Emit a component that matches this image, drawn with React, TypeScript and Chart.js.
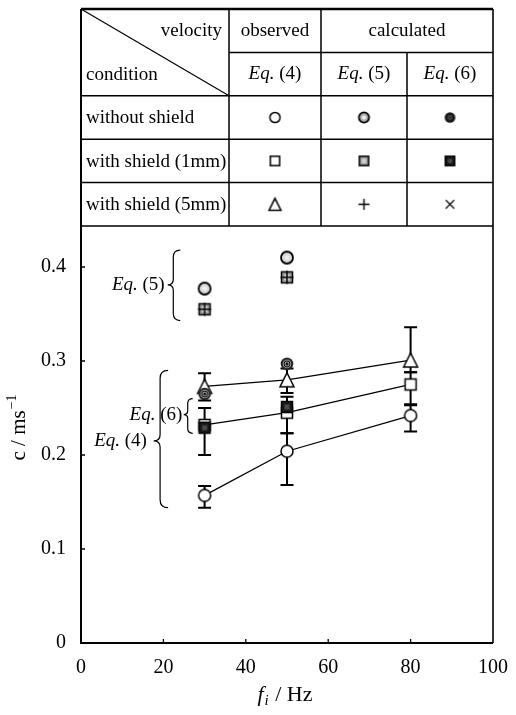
import { useEffect, useRef } from 'react';
import { Chart, registerables } from 'chart.js';
Chart.register(...registerables);

const FONT = '"Liberation Serif", "Times New Roman", serif';

// ---- data ----
const obsFreq = [30, 50, 80];
const calcFreq = [30, 50];

const obsNoShield = [0.157, 0.204, 0.242];
const obsNoShieldLow = [0.144, 0.168, 0.225];
const obsNoShieldHigh = [0.167, 0.223, 0.253];

const obsShield1 = [0.232, 0.245, 0.275];
const obsShield1Low = [0.200, 0.223, 0.254];
const obsShield1High = [0.250, 0.262, 0.288];

const obsShield5 = [0.273, 0.280, 0.301];
const obsShield5Low = [0.258, 0.266, 0.288];
const obsShield5High = [0.287, 0.292, 0.336];

const eq5NoShield = [0.377, 0.410];
const eq5Shield1 = [0.355, 0.389];
const eq5Shield5 = [0.355, 0.389];

const eq6NoShield = [0.265, 0.297];
const eq6Shield1 = [0.229, 0.251];

const yTicks = [0, 0.1, 0.2, 0.3, 0.4];
const xTickStep = 20;

const conditions = ['without shield', 'with shield (1mm)', 'with shield (5mm)'];
const eqNumbers = ['(4)', '(5)', '(6)'];
const tableSymbols = [
  ['circleOpen', 'circleEq5', 'circleEq6'],
  ['squareOpen', 'squareEq5', 'squareEq6'],
  ['triangleOpen', 'plus', 'cross'],
];

// ---- markers ----
function makeMarker(kind: string, k = 1, table = false): HTMLCanvasElement {
  const size = Math.ceil(20 * k);
  const cv = document.createElement('canvas');
  cv.width = size;
  cv.height = size;
  const g = cv.getContext('2d')!;
  const c = size / 2;
  g.strokeStyle = '#000';
  g.lineWidth = 1.5;
  const circ = (r: number) => {
    g.beginPath();
    g.arc(c, c, r, 0, Math.PI * 2);
  };
  switch (kind) {
    case 'circleOpen':
      circ(6 * k); g.fillStyle = '#fff'; g.fill(); g.stroke();
      break;
    case 'circleEq5':
      circ(6 * k); g.fillStyle = table ? '#b0b0b0' : '#d8d8d8'; g.fill(); g.lineWidth = 1.8; g.stroke();
      circ(2.5 * k); g.fillStyle = '#ededed'; g.fill();
      break;
    case 'circleEq6':
      if (table) {
        circ(6.3 * k); g.fillStyle = '#1a1a1a'; g.fill();
        circ(2.6 * k); g.fillStyle = '#555'; g.fill();
        circ(1.2 * k); g.fillStyle = '#111'; g.fill();
      } else {
        circ(6.3 * k); g.fillStyle = '#222'; g.fill();
        circ(4.3 * k); g.fillStyle = '#aaa'; g.fill();
        circ(3 * k); g.lineWidth = 1; g.stroke();
        circ(1.5 * k); g.fillStyle = '#111'; g.fill();
      }
      break;
    case 'squareOpen': {
      const h = 5.5 * k;
      g.fillStyle = '#fff'; g.fillRect(c - h, c - h, 2 * h, 2 * h); g.strokeRect(c - h, c - h, 2 * h, 2 * h);
      break;
    }
    case 'squareEq5': {
      const h = 5.5 * k;
      g.fillStyle = '#9a9a9a'; g.fillRect(c - h, c - h, 2 * h, 2 * h);
      g.fillStyle = '#d0d0d0'; g.fillRect(c - h * 0.5, c - h * 0.5, h, h);
      g.strokeRect(c - h, c - h, 2 * h, 2 * h);
      break;
    }
    case 'squareEq6': {
      const h = 5.5 * k;
      g.fillStyle = '#1a1a1a'; g.fillRect(c - h, c - h, 2 * h, 2 * h);
      g.fillStyle = '#4a4a4a'; g.fillRect(c - h * 0.45, c - h * 0.45, h * 0.9, h * 0.9);
      g.strokeRect(c - h, c - h, 2 * h, 2 * h);
      break;
    }
    case 'triangleOpen': {
      const w = 7 * k, ht = 7 * k;
      g.beginPath(); g.moveTo(c, c - ht); g.lineTo(c + w, c + ht); g.lineTo(c - w, c + ht); g.closePath();
      g.fillStyle = '#fff'; g.fill(); g.stroke();
      break;
    }
    case 'plus': {
      const h = 6.5 * k;
      g.lineWidth = 1.4;
      g.beginPath(); g.moveTo(c - h, c); g.lineTo(c + h, c); g.moveTo(c, c - h); g.lineTo(c, c + h); g.stroke();
      break;
    }
    case 'cross': {
      const h = 5 * k;
      g.lineWidth = 1.2;
      g.beginPath(); g.moveTo(c - h, c - h); g.lineTo(c + h, c + h); g.moveTo(c + h, c - h); g.lineTo(c - h, c + h); g.stroke();
      break;
    }
  }
  return cv;
}

function drawEq(ctx: CanvasRenderingContext2D, num: string, x: number, y: number, align: 'center' | 'right' | 'left', size = 19) {
  ctx.textBaseline = 'middle';
  ctx.textAlign = 'left';
  ctx.font = `italic ${size}px ${FONT}`;
  const w1 = ctx.measureText('Eq.').width;
  ctx.font = `${size}px ${FONT}`;
  const w2 = ctx.measureText(' ' + num).width;
  const total = w1 + w2;
  let x0 = x;
  if (align === 'center') x0 = x - total / 2;
  else if (align === 'right') x0 = x - total;
  ctx.font = `italic ${size}px ${FONT}`;
  ctx.fillText('Eq.', x0, y);
  ctx.font = `${size}px ${FONT}`;
  ctx.fillText(' ' + num, x0 + w1, y);
}

function drawBrace(ctx: CanvasRenderingContext2D, x: number, yTop: number, yBot: number, yTip: number, d = 7) {
  ctx.beginPath();
  ctx.moveTo(x + d, yTop);
  ctx.quadraticCurveTo(x, yTop, x, yTop + d);
  ctx.lineTo(x, yTip - d * 0.8);
  ctx.quadraticCurveTo(x, yTip, x - d * 0.8, yTip);
  ctx.quadraticCurveTo(x, yTip, x, yTip + d * 0.8);
  ctx.lineTo(x, yBot - d);
  ctx.quadraticCurveTo(x, yBot, x + d, yBot);
  ctx.stroke();
}

export default function App() {
  const ref = useRef<HTMLCanvasElement>(null);
  useEffect(() => {
    const m = {
      circleOpen: makeMarker('circleOpen'),
      circleEq5: makeMarker('circleEq5'),
      circleEq6: makeMarker('circleEq6'),
      squareOpen: makeMarker('squareOpen'),
      squareEq5: makeMarker('squareEq5'),
      squareEq6: makeMarker('squareEq6'),
      triangleOpen: makeMarker('triangleOpen'),
      plus: makeMarker('plus'),
    } as Record<string, HTMLCanvasElement>;
    const tm: Record<string, HTMLCanvasElement> = {};
    tableSymbols.flat().forEach((s) => (tm[s] = makeMarker(s, 0.85, true)));

    const errorSets = [
      { low: obsNoShieldLow, high: obsNoShieldHigh },
      { low: obsShield1Low, high: obsShield1High },
      { low: obsShield5Low, high: obsShield5High },
    ];

    const pts = (xs: number[], ys: number[]) => xs.map((x, i) => ({ x, y: ys[i] }));
    const calcDs = (ys: number[], marker: HTMLCanvasElement) => ({
      data: pts(calcFreq, ys),
      pointStyle: marker,
      showLine: false,
      pointRadius: 7,
    });
    const obsDs = (ys: number[], marker: HTMLCanvasElement) => ({
      data: pts(obsFreq, ys),
      pointStyle: marker,
      showLine: true,
      borderColor: '#000',
      borderWidth: 1.3,
      pointRadius: 7,
    });

    const plugin = {
      id: 'custom',
      beforeDatasetsDraw(chart: any) {
        const ctx = chart.ctx as CanvasRenderingContext2D;
        const xs = chart.scales.x, ys = chart.scales.y;
        ctx.save();
        ctx.strokeStyle = '#000';
        ctx.lineWidth = 2;
        errorSets.forEach((es) =>
          es.low.forEach((lo, i) => {
            const px = xs.getPixelForValue(obsFreq[i]);
            const pl = ys.getPixelForValue(lo);
            const ph = ys.getPixelForValue(es.high[i]);
            ctx.beginPath();
            ctx.moveTo(px, pl); ctx.lineTo(px, ph);
            ctx.moveTo(px - 6.5, pl); ctx.lineTo(px + 6.5, pl);
            ctx.moveTo(px - 6.5, ph); ctx.lineTo(px + 6.5, ph);
            ctx.stroke();
          })
        );
        ctx.restore();
      },
      afterDraw(chart: any) {
        const ctx = chart.ctx as CanvasRenderingContext2D;
        const xs = chart.scales.x, ys = chart.scales.y;
        const a = chart.chartArea;
        ctx.save();
        ctx.strokeStyle = '#000';
        ctx.fillStyle = '#000';

        // table geometry
        const tTop = 9;
        const tBot = a.top;
        const rowH = (tBot - tTop) / 5;
        const rows = [0, 1, 2, 3, 4, 5].map((i) => tTop + i * rowH);
        const c0 = a.left, c1 = 229, c2 = 321, c3 = 407, c4 = a.right;

        // frame
        ctx.lineWidth = 2;
        ctx.beginPath();
        ctx.moveTo(c0, tTop); ctx.lineTo(c0, a.bottom); ctx.lineTo(a.right, a.bottom);
        ctx.stroke();
        ctx.lineWidth = 1.6;
        ctx.beginPath();
        ctx.moveTo(a.right, tTop); ctx.lineTo(a.right, a.bottom);
        ctx.stroke();
        ctx.lineWidth = 2.5;
        ctx.beginPath();
        ctx.moveTo(c0, tTop); ctx.lineTo(c4, tTop);
        ctx.stroke();

        // inward ticks
        ctx.lineWidth = 1.3;
        ctx.beginPath();
        for (let v = xTickStep; v < 100; v += xTickStep) {
          const px = xs.getPixelForValue(v);
          ctx.moveTo(px, a.bottom); ctx.lineTo(px, a.bottom - 4);
        }
        yTicks.forEach((v) => {
          if (v === 0) return;
          const py = ys.getPixelForValue(v);
          ctx.moveTo(a.left, py); ctx.lineTo(a.left + 4, py);
        });
        ctx.stroke();

        // table lines
        ctx.lineWidth = 1.5;
        ctx.beginPath();
        ctx.moveTo(c1, rows[1]); ctx.lineTo(c4, rows[1]);
        for (let i = 2; i <= 5; i++) { ctx.moveTo(c0, rows[i]); ctx.lineTo(c4, rows[i]); }
        ctx.moveTo(c1, tTop); ctx.lineTo(c1, tBot);
        ctx.moveTo(c2, tTop); ctx.lineTo(c2, tBot);
        ctx.moveTo(c3, rows[1]); ctx.lineTo(c3, tBot);
        ctx.stroke();
        ctx.lineWidth = 1.2;
        ctx.beginPath();
        ctx.moveTo(c0, tTop); ctx.lineTo(c1, rows[2]);
        ctx.stroke();

        // table text
        ctx.font = `19px ${FONT}`;
        ctx.textBaseline = 'middle';
        ctx.textAlign = 'right';
        ctx.fillText('velocity', c1 - 7, (rows[0] + rows[1]) / 2);
        ctx.textAlign = 'left';
        ctx.fillText('condition', c0 + 5, (rows[1] + rows[2]) / 2 + 1);
        ctx.textAlign = 'center';
        ctx.fillText('observed', (c1 + c2) / 2, (rows[0] + rows[1]) / 2);
        ctx.fillText('calculated', (c2 + c4) / 2, (rows[0] + rows[1]) / 2);
        const colCenters = [(c1 + c2) / 2, (c2 + c3) / 2, (c3 + c4) / 2];
        eqNumbers.forEach((n, i) => drawEq(ctx, n, colCenters[i], (rows[1] + rows[2]) / 2, 'center'));
        conditions.forEach((t, r) => {
          const cy = (rows[r + 2] + rows[r + 3]) / 2;
          ctx.font = `19px ${FONT}`;
          ctx.textAlign = 'left';
          ctx.textBaseline = 'middle';
          ctx.fillText(t, c0 + 5, cy + 1);
          tableSymbols[r].forEach((s, ci) => {
            const img = tm[s];
            ctx.drawImage(img, colCenters[ci] - img.width / 2, cy - img.height / 2);
          });
        });

        // annotations with braces
        ctx.lineWidth = 1.2;
        drawBrace(ctx, xs.getPixelForValue(22.4), ys.getPixelForValue(0.418), ys.getPixelForValue(0.343), ys.getPixelForValue(0.381), 7);
        drawEq(ctx, '(5)', xs.getPixelForValue(20.3), ys.getPixelForValue(0.381), 'right');
        drawBrace(ctx, xs.getPixelForValue(25.9), ys.getPixelForValue(0.260), ys.getPixelForValue(0.223), ys.getPixelForValue(0.243), 5);
        drawEq(ctx, '(6)', xs.getPixelForValue(24.6), ys.getPixelForValue(0.243), 'right');
        drawBrace(ctx, xs.getPixelForValue(19.2), ys.getPixelForValue(0.290), ys.getPixelForValue(0.144), ys.getPixelForValue(0.215), 8);
        drawEq(ctx, '(4)', xs.getPixelForValue(16.0), ys.getPixelForValue(0.215), 'right');

        // y title
        ctx.save();
        ctx.translate(19, 428);
        ctx.rotate(-Math.PI / 2);
        ctx.font = `21px ${FONT}`;
        const wMain = ctx.measureText('c / ms').width;
        ctx.font = `14px ${FONT}`;
        const wSup = ctx.measureText('\u22121').width;
        const x0 = -(wMain + wSup) / 2;
        ctx.textAlign = 'left';
        ctx.textBaseline = 'middle';
        ctx.font = `21px ${FONT}`;
        ctx.fillText('c / ms', x0, 0);
        ctx.font = `14px ${FONT}`;
        ctx.fillText('\u22121', x0 + wMain + 1, -7);
        ctx.restore();

        // x title
        ctx.textBaseline = 'middle';
        ctx.textAlign = 'left';
        ctx.font = `italic 22px ${FONT}`;
        const wf = ctx.measureText('f').width;
        ctx.font = `italic 15px ${FONT}`;
        const wi = ctx.measureText('i').width;
        ctx.font = `22px ${FONT}`;
        const wr = ctx.measureText(' / Hz').width;
        const xt = 285 - (wf + wi + wr + 2) / 2;
        const yt = 695;
        ctx.font = `italic 22px ${FONT}`;
        ctx.fillText('f', xt, yt);
        ctx.font = `italic 15px ${FONT}`;
        ctx.fillText('i', xt + wf + 1, yt + 6);
        ctx.font = `22px ${FONT}`;
        ctx.fillText(' / Hz', xt + wf + wi + 2, yt);

        ctx.restore();
      },
    };

    const chart = new Chart(ref.current!, {
      type: 'scatter',
      data: {
        datasets: [
          calcDs(eq5Shield5, m.plus),
          calcDs(eq6NoShield, m.circleEq6),
          calcDs(eq6Shield1, m.squareEq6),
          calcDs(eq5NoShield, m.circleEq5),
          calcDs(eq5Shield1, m.squareEq5),
          obsDs(obsShield5, m.triangleOpen),
          obsDs(obsShield1, m.squareOpen),
          obsDs(obsNoShield, m.circleOpen),
        ] as any,
      },
      options: {
        animation: false,
        responsive: false,
        devicePixelRatio: 1,
        layout: { padding: { top: 226, right: 23, left: 0, bottom: 0 } },
        plugins: { legend: { display: false }, tooltip: { enabled: false } },
        scales: {
          x: {
            type: 'linear',
            min: 0,
            max: 100,
            grid: { display: false },
            border: { display: false },
            ticks: {
              stepSize: xTickStep,
              color: '#000',
              font: { family: FONT, size: 20 },
              padding: 5,
              maxRotation: 0,
              autoSkip: false,
            },
            afterFit: (s: any) => { s.height = 72; },
          },
          y: {
            type: 'linear',
            min: 0,
            max: 0.4436,
            grid: { display: false },
            border: { display: false },
            afterBuildTicks: (s: any) => { s.ticks = yTicks.map((v) => ({ value: v })); },
            ticks: {
              color: '#000',
              font: { family: FONT, size: 20 },
              padding: 7,
              callback: (v: any) => (Number(v) === 0 ? '0' : Number(v).toFixed(1)),
            },
            afterFit: (s: any) => { s.width = 81; },
          },
        },
      } as any,
      plugins: [plugin],
    });
    return () => chart.destroy();
  }, []);

  return (
    <div style={{ position: 'fixed', left: 0, top: 0, width: 516, height: 715, background: '#fff' }}>
      <canvas ref={ref} width={516} height={715} />
    </div>
  );
}
